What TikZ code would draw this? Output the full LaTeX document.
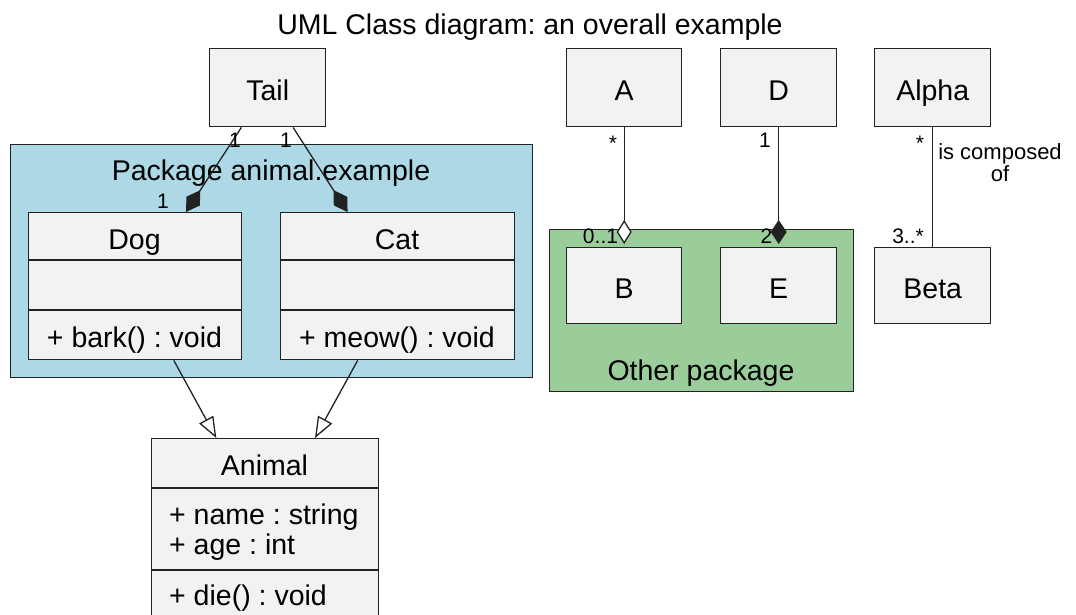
\documentclass[tikz,border=0pt]{standalone}
\usepackage{fontspec}
\setmainfont{Liberation Sans}
\usetikzlibrary{arrows.meta,calc}
\definecolor{boxfill}{HTML}{F2F2F2}
\definecolor{pkgblue}{HTML}{ADD8E6}
\definecolor{pkggreen}{HTML}{9BCD9B}
\definecolor{edgecol}{HTML}{222222}
\newcommand{\umlbig}{\fontsize{28.5}{33}\selectfont}
\newcommand{\umlsmall}{\fontsize{21}{24}\selectfont}
\frenchspacing
\tikzset{
  clsbox/.style={draw=edgecol, fill=boxfill, line width=1.4pt, inner sep=0pt,
    font=\umlbig, text height=25pt, text depth=0pt, anchor=north west},
  pkgbox/.style={draw=edgecol, line width=1.4pt, inner sep=0pt, anchor=north west},
  bigtxt/.style={font=\umlbig, inner sep=0pt},
  multtxt/.style={font=\umlsmall, inner sep=0pt, anchor=base},
  conn/.style={draw=edgecol, line width=1.3pt},
  compo/.style={-{Diamond[length=26pt,width=16pt]}},
  compov/.style={-{Diamond[length=24pt,width=16pt]}, shorten >=3pt},
  aggr/.style={-{Diamond[open,fill=white,length=24pt,width=15pt]}, shorten >=3pt},
  inherit/.style={-{Triangle[open,fill=white,length=21pt,width=16pt]}},
  divider/.style={draw=edgecol, line width=1.4pt}
}
\begin{document}
\begin{tikzpicture}[x=1pt,y=-1pt]
\fill[white] (0,0) rectangle (1076,615);
\clip (0,0) rectangle (1076,615);

% title
\node[bigtxt, anchor=base] (title) at (530,35) {UML Class diagram: an overall example};

% packages
\node[pkgbox, fill=pkgblue, minimum width=522, minimum height=233] (pkganimal) at (10,144) {};
\node[bigtxt, anchor=base] (pkganimallbl) at (271,180) {Package animal.example};
\node[pkgbox, fill=pkggreen, minimum width=304, minimum height=162] (pkgother) at (549,229) {};
\node[bigtxt, anchor=base] (pkgotherlbl) at (701,380) {Other package};

% simple classes
\node[clsbox, minimum width=116, minimum height=78] (tail) at (209,48) {Tail};
\node[clsbox, minimum width=115, minimum height=78] (a) at (566,48) {A};
\node[clsbox, minimum width=116, minimum height=78] (d) at (720,48) {D};
\node[clsbox, minimum width=116, minimum height=78] (alpha) at (874,48) {Alpha};
\node[clsbox, minimum width=115, minimum height=76] (b) at (566,247) {B};
\node[clsbox, minimum width=116, minimum height=76] (e) at (720,247) {E};
\node[clsbox, minimum width=116, minimum height=76] (beta) at (874,247) {Beta};

% Dog
\node[clsbox, minimum width=213, minimum height=147] (dog) at (28,212) {};
\draw[divider] (28,260) -- (241,260);
\draw[divider] (28,310) -- (241,310);
\node[bigtxt, anchor=base] (dogname) at (134.5,249) {Dog};
\node[bigtxt, anchor=base] (dogops) at (134.5,347) {+ bark() : void};

% Cat
\node[clsbox, minimum width=234, minimum height=147] (cat) at (280,212) {};
\draw[divider] (280,260) -- (514,260);
\draw[divider] (280,310) -- (514,310);
\node[bigtxt, anchor=base] (catname) at (397,249) {Cat};
\node[bigtxt, anchor=base] (catops) at (397,347) {+ meow() : void};

% Animal
\node[clsbox, minimum width=227, minimum height=180] (animal) at (151,438) {};
\draw[divider] (151,488) -- (378,488);
\draw[divider] (151,570) -- (378,570);
\node[bigtxt, anchor=base] (animalname) at (264.5,475) {Animal};
\node[bigtxt, anchor=base west] (animalattr1) at (169,524) {+ name : string};
\node[bigtxt, anchor=base west] (animalattr2) at (169,554) {+ age : int};
\node[bigtxt, anchor=base west] (animalops) at (169,605) {+ die() : void};

% Tail compositions
\draw[conn, compo] ($(tail.south west)!0.276!(tail.south east)$) -- ($(dog.north west)!0.737!(dog.north east)$);
\draw[conn, compo] ($(tail.south west)!0.716!(tail.south east)$) -- ($(cat.north west)!0.287!(cat.north east)$);
\node[multtxt] (m1) at (235,148) {1};
\node[multtxt] (m2) at (286,148) {1};
\node[multtxt] (m3) at (163,208) {1};

% inheritance
\draw[conn, inherit] ($(dog.south west)!0.68!(dog.south east)$) -- ($(animal.north west)!0.286!(animal.north east)$);
\draw[conn, inherit] ($(cat.south west)!0.33!(cat.south east)$) -- ($(animal.north west)!0.718!(animal.north east)$);

% A - B aggregation
\draw[conn, aggr] (a.south) -- (b.north);
\node[multtxt] (m4) at (613,150) {*};
\node[multtxt] (m5) at (600.5,243) {0..1};

% D - E composition
\draw[conn, compov] (d.south) -- (e.north);
\node[multtxt] (m6) at (765,148) {1};
\node[multtxt] (m7) at (766.5,243) {2};

% Alpha - Beta association
\draw[conn] (alpha.south) -- (beta.north);
\node[multtxt] (m8) at (920,150) {*};
\node[multtxt] (m9) at (908,243) {3..*};
\node[font=\fontsize{22}{22.5}\selectfont, inner sep=0pt, align=center, anchor=north] (assoclbl) at (1000,143) {is composed\\of};
\end{tikzpicture}
\end{document}
